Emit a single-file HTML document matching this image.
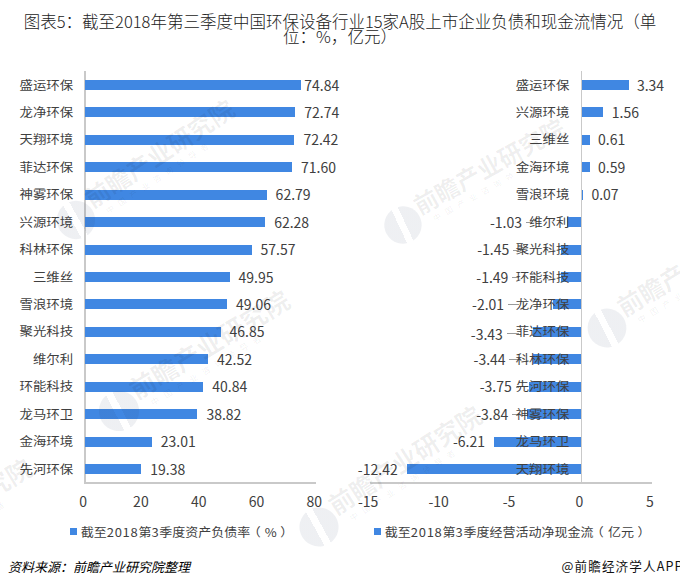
<!DOCTYPE html>
<html lang="zh-CN"><head><meta charset="utf-8"><title>图表5</title>
<style>
*{margin:0;padding:0;box-sizing:border-box}
html,body{width:680px;height:585px;background:#fff;overflow:hidden}
body{position:relative;font-family:"Noto Sans CJK SC",sans-serif;font-weight:400;color:#404040}
.a{position:absolute;white-space:nowrap}
.t{font-size:16.5px;color:#222;line-height:17px;font-weight:300}
.c{font-size:13.4px;line-height:13px;text-align:right;width:80px;transform:scaleY(0.9);transform-origin:50% 50%}
.v{font-size:14px;line-height:13px;color:#404040}
.vr{font-size:14px;line-height:13px;text-align:right;width:60px;color:#404040}
.k{font-size:14px;line-height:13px;text-align:center;width:40px;color:#404040}
.bar{position:absolute;background:#4087e2;height:10px}
.ax{position:absolute;background:#c9c9c9}
.ld{position:absolute;height:1px;background:#9a9a9a}
.lg{font-size:13px;line-height:13px;transform:scaleY(0.92);transform-origin:50% 50%;color:#404040}
.d{letter-spacing:0.71px}
.p1{position:relative;left:-2.7px;margin-right:1.45px}
.p2{position:relative;left:3.5px}
.sq{position:absolute;width:7px;height:7px;background:#4087e2}
.ft{font-size:13px;line-height:13px;font-style:italic;color:#000;font-weight:400}
.wm{position:absolute;width:0;height:0;transform:rotate(-30.5deg);transform-origin:0 0}
.wm i{position:absolute;left:-19px;top:-19px;width:38px;height:38px;border-radius:50%;background:linear-gradient(94deg,rgba(30,50,90,0.075) 0 40%,transparent 40% 57%,rgba(30,50,90,0.075) 57% 100%)}
.wm b{position:absolute;left:19.75px;top:-23.25px;font-size:24.5px;line-height:26.5px;font-weight:700;color:rgba(0,0,0,0.065);white-space:nowrap}
.wm em{position:absolute;left:30px;top:5px;font-size:8px;line-height:9px;letter-spacing:6px;font-style:normal;color:rgba(0,0,0,0.07);white-space:nowrap}
</style></head><body>

<div class="a t" style="left:0;width:680px;top:13.2px;text-align:center">图表5：截至2018年第三季度中国环保设备行业15家A股上市企业负债和现金流情况（单</div>
<div class="a t" style="left:0;width:680px;top:28.3px;text-align:center">位：%，亿元）</div>
<div class="ax" style="left:84px;top:71px;width:2px;height:413px"></div>
<div class="ax" style="left:84px;top:482px;width:232px;height:2px"></div>
<div class="bar" style="left:85.3px;top:80.00px;width:216.10px"></div>
<div class="a c" style="left:-6.9px;top:78.50px">盛运环保</div>
<div class="a v" style="left:304.30px;top:78.50px">74.84</div>
<div class="bar" style="left:85.3px;top:107.43px;width:210.04px"></div>
<div class="a c" style="left:-6.9px;top:105.93px">龙净环保</div>
<div class="a v" style="left:304.34px;top:105.93px">72.74</div>
<div class="bar" style="left:85.3px;top:134.86px;width:209.11px"></div>
<div class="a c" style="left:-6.9px;top:133.36px">天翔环境</div>
<div class="a v" style="left:303.41px;top:133.36px">72.42</div>
<div class="bar" style="left:85.3px;top:162.29px;width:206.75px"></div>
<div class="a c" style="left:-6.9px;top:160.79px">菲达环保</div>
<div class="a v" style="left:301.05px;top:160.79px">71.60</div>
<div class="bar" style="left:85.3px;top:189.72px;width:181.31px"></div>
<div class="a c" style="left:-6.9px;top:188.22px">神雾环保</div>
<div class="a v" style="left:275.61px;top:188.22px">62.79</div>
<div class="bar" style="left:85.3px;top:217.15px;width:179.83px"></div>
<div class="a c" style="left:-6.9px;top:215.65px">兴源环境</div>
<div class="a v" style="left:274.13px;top:215.65px">62.28</div>
<div class="bar" style="left:85.3px;top:244.58px;width:166.23px"></div>
<div class="a c" style="left:-6.9px;top:243.08px">科林环保</div>
<div class="a v" style="left:260.53px;top:243.08px">57.57</div>
<div class="bar" style="left:85.3px;top:272.01px;width:144.23px"></div>
<div class="a c" style="left:-6.9px;top:270.51px">三维丝</div>
<div class="a v" style="left:238.53px;top:270.51px">49.95</div>
<div class="bar" style="left:85.3px;top:299.44px;width:141.66px"></div>
<div class="a c" style="left:-6.9px;top:297.94px">雪浪环境</div>
<div class="a v" style="left:235.96px;top:297.94px">49.06</div>
<div class="bar" style="left:85.3px;top:326.87px;width:135.28px"></div>
<div class="a c" style="left:-6.9px;top:325.37px">聚光科技</div>
<div class="a v" style="left:229.58px;top:325.37px">46.85</div>
<div class="bar" style="left:85.3px;top:354.30px;width:122.78px"></div>
<div class="a c" style="left:-6.9px;top:352.80px">维尔利</div>
<div class="a v" style="left:217.08px;top:352.80px">42.52</div>
<div class="bar" style="left:85.3px;top:381.73px;width:117.93px"></div>
<div class="a c" style="left:-6.9px;top:380.23px">环能科技</div>
<div class="a v" style="left:212.23px;top:380.23px">40.84</div>
<div class="bar" style="left:85.3px;top:409.16px;width:112.09px"></div>
<div class="a c" style="left:-6.9px;top:407.66px">龙马环卫</div>
<div class="a v" style="left:206.39px;top:407.66px">38.82</div>
<div class="bar" style="left:85.3px;top:436.59px;width:66.44px"></div>
<div class="a c" style="left:-6.9px;top:435.09px">金海环境</div>
<div class="a v" style="left:160.74px;top:435.09px">23.01</div>
<div class="bar" style="left:85.3px;top:464.02px;width:55.96px"></div>
<div class="a c" style="left:-6.9px;top:462.52px">先河环保</div>
<div class="a v" style="left:150.26px;top:462.52px">19.38</div>
<div class="ld" style="left:525.8px;top:222.2px;width:6.3px"></div>
<div class="ld" style="left:513.0px;top:249.6px;width:5.7px"></div>
<div class="ld" style="left:512.2px;top:277.0px;width:6.5px"></div>
<div class="ld" style="left:507.9px;top:304.4px;width:10.8px"></div>
<div class="ld" style="left:506.7px;top:332.6px;width:12.0px"></div>
<div class="ld" style="left:509.4px;top:359.3px;width:9.3px"></div>
<div class="ld" style="left:515.6px;top:386.7px;width:3.1px"></div>
<div class="ld" style="left:512.1px;top:414.2px;width:6.6px"></div>
<div class="bar" style="left:581.50px;top:80.00px;width:47.06px"></div>
<div class="bar" style="left:581.50px;top:107.43px;width:21.98px"></div>
<div class="bar" style="left:581.50px;top:134.86px;width:8.59px"></div>
<div class="bar" style="left:581.50px;top:162.29px;width:8.31px"></div>
<div class="bar" style="left:581.50px;top:189.72px;width:0.99px"></div>
<div class="bar" style="left:566.99px;top:217.15px;width:14.51px"></div>
<div class="bar" style="left:561.07px;top:244.58px;width:20.43px"></div>
<div class="bar" style="left:560.51px;top:272.01px;width:20.99px"></div>
<div class="bar" style="left:553.18px;top:299.44px;width:28.32px"></div>
<div class="bar" style="left:533.17px;top:326.87px;width:48.33px"></div>
<div class="bar" style="left:533.03px;top:354.30px;width:48.47px"></div>
<div class="bar" style="left:528.66px;top:381.73px;width:52.84px"></div>
<div class="bar" style="left:527.39px;top:409.16px;width:54.11px"></div>
<div class="bar" style="left:494.00px;top:436.59px;width:87.50px"></div>
<div class="bar" style="left:406.50px;top:464.02px;width:175.00px"></div>
<div class="a c" style="left:489.3px;top:78.50px">盛运环保</div>
<div class="a v" style="left:636.9px;top:78.50px">3.34</div>
<div class="a c" style="left:489.3px;top:105.93px">兴源环境</div>
<div class="a v" style="left:611.8px;top:105.93px">1.56</div>
<div class="a c" style="left:489.3px;top:133.36px">三维丝</div>
<div class="a v" style="left:598.0px;top:133.36px">0.61</div>
<div class="a c" style="left:489.3px;top:160.79px">金海环境</div>
<div class="a v" style="left:598.0px;top:160.79px">0.59</div>
<div class="a c" style="left:489.3px;top:188.22px">雪浪环境</div>
<div class="a v" style="left:591.4px;top:188.22px">0.07</div>
<div class="a c" style="left:489.3px;top:215.65px">维尔利</div>
<div class="a vr" style="left:462.0px;top:215.65px">-1.03</div>
<div class="a c" style="left:489.3px;top:243.08px">聚光科技</div>
<div class="a vr" style="left:449.2px;top:243.08px">-1.45</div>
<div class="a c" style="left:489.3px;top:270.51px">环能科技</div>
<div class="a vr" style="left:448.4px;top:270.51px">-1.49</div>
<div class="a c" style="left:489.3px;top:297.94px">龙净环保</div>
<div class="a vr" style="left:444.1px;top:297.94px">-2.01</div>
<div class="a c" style="left:489.3px;top:325.37px">菲达环保</div>
<div class="a vr" style="left:442.9px;top:327.87px">-3.43</div>
<div class="a c" style="left:489.3px;top:352.80px">科林环保</div>
<div class="a vr" style="left:445.6px;top:352.80px">-3.44</div>
<div class="a c" style="left:489.3px;top:380.23px">先河环保</div>
<div class="a vr" style="left:451.8px;top:380.23px">-3.75</div>
<div class="a c" style="left:489.3px;top:407.66px">神雾环保</div>
<div class="a vr" style="left:448.3px;top:407.66px">-3.84</div>
<div class="a c" style="left:489.3px;top:435.09px">龙马环卫</div>
<div class="a vr" style="left:425.0px;top:435.09px">-6.21</div>
<div class="a c" style="left:489.3px;top:462.52px">天翔环境</div>
<div class="a vr" style="left:337.7px;top:462.52px">-12.42</div>
<div class="ax" style="left:580.6px;top:71px;width:1.6px;height:413px"></div>
<div class="ax" style="left:370px;top:482px;width:282px;height:2px"></div>
<div class="a k" style="left:63.1px;top:495px">0</div>
<div class="a k" style="left:120.9px;top:495px">20</div>
<div class="a k" style="left:178.7px;top:495px">40</div>
<div class="a k" style="left:236.5px;top:495px">60</div>
<div class="a k" style="left:294.3px;top:495px">80</div>
<div class="a k" style="left:348.2px;top:495px">-15</div>
<div class="a k" style="left:418.6px;top:495px">-10</div>
<div class="a k" style="left:489.1px;top:495px">-5</div>
<div class="a k" style="left:559.5px;top:495px">0</div>
<div class="a k" style="left:630.0px;top:495px">5</div>
<div class="sq" style="left:70px;top:528px"></div>
<div class="a lg" style="left:80.7px;top:525px">截至<span class="d">2018</span>第<span class="d">3</span>季度资产负债率<span class="p1">（</span>%<span class="p2">）</span></div>
<div class="sq" style="left:374px;top:528px"></div>
<div class="a lg" style="left:384.8px;top:525px">截至<span class="d">2018</span>第<span class="d">3</span>季度经营活动净现金流<span class="p1">（</span>亿元<span class="p2">）</span></div>
<div class="a ft" style="left:8px;top:560px">资料来源：前瞻产业研究院整理</div>
<div class="a" style="left:561.5px;top:558.7px;font-size:12.6px;line-height:14px;letter-spacing:1.1px;color:#111">@前瞻经济学人APP</div>
<div class="wm" style="left:76.2px;top:220.1px;transform:rotate(-33.4deg) scale(1.007)"><i></i><b>前瞻产业研究院</b><em>中国产业咨询领导者</em></div>
<div class="wm" style="left:402.9px;top:224.9px;transform:rotate(-29.1deg) scale(0.984)"><i></i><b>前瞻产业研究院</b><em>中国产业咨询领导者</em></div>
<div class="wm" style="left:118.6px;top:411.2px;transform:rotate(-31.3deg) scale(1.059)"><i></i><b>前瞻产业研究院</b><em>中国产业咨询领导者</em></div>
<div class="wm" style="left:318.9px;top:527.0px;transform:rotate(-32.8deg) scale(1.028)"><i></i><b>前瞻产业研究院</b><em>中国产业咨询领导者</em></div>
<div class="wm" style="left:607.3px;top:327.6px;transform:rotate(-31.0deg) scale(1.020)"><i></i><b>前瞻产业研究院</b><em>中国产业咨询领导者</em></div>
<div class="wm" style="left:-133.3px;top:573.8px;transform:rotate(-31.0deg) scale(1.020)"><i></i><b>前瞻产业研究院</b><em>中国产业咨询领导者</em></div>
</body></html>
